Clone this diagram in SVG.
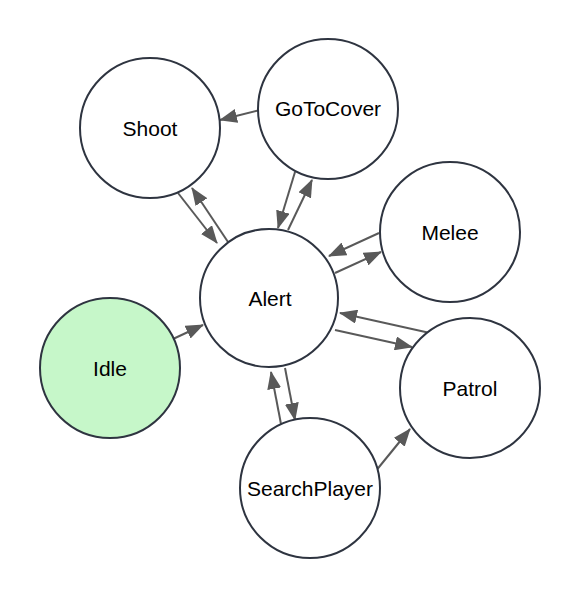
<svg xmlns="http://www.w3.org/2000/svg" width="580" height="600" viewBox="0 0 580 600">
<style>
.n{fill:#ffffff;stroke:#2e3440;stroke-width:2}
.idle{fill:#c6f7c9}
.t{font-family:"Liberation Sans",Arial,sans-serif;font-size:21px;fill:#000;text-anchor:middle;dominant-baseline:central}
.e{stroke:#595959;stroke-width:2;fill:none;marker-end:url(#a)}
</style>
<defs>
<marker id="a" markerUnits="userSpaceOnUse" markerWidth="18" markerHeight="14" viewBox="0 0 18 14" refX="17" refY="7" orient="auto">
<path d="M0,0 L18,7 L0,14 Z" fill="#595959"/>
</marker>
</defs>
<rect width="580" height="600" fill="#ffffff"/>
<g id="connectors">
<line class="e" x1="260" y1="110" x2="220" y2="120"/>
<line class="e" x1="178" y1="193" x2="217" y2="243"/>
<line class="e" x1="228" y1="242" x2="192" y2="188"/>
<line class="e" x1="288" y1="230" x2="312" y2="180"/>
<line class="e" x1="295" y1="172" x2="278" y2="228"/>
<line class="e" x1="379" y1="233" x2="329" y2="256"/>
<line class="e" x1="335" y1="273" x2="381" y2="252"/>
<line class="e" x1="430" y1="333" x2="340" y2="313"/>
<line class="e" x1="335" y1="330" x2="412" y2="347"/>
<line class="e" x1="173" y1="339" x2="203" y2="325"/>
<line class="e" x1="281" y1="424" x2="271" y2="372"/>
<line class="e" x1="285" y1="368" x2="295" y2="420"/>
<line class="e" x1="375" y1="472" x2="410" y2="429"/>
</g>
<g id="Shoot"><circle class="n" cx="150" cy="128" r="70"/><text class="t" x="150" y="128">Shoot</text></g>
<g id="GoToCover"><circle class="n" cx="328" cy="109" r="70"/><text class="t" x="328" y="108">GoToCover</text></g>
<g id="Melee"><circle class="n" cx="450" cy="232" r="70"/><text class="t" x="450" y="232">Melee</text></g>
<g id="Alert"><circle class="n" cx="269" cy="298" r="69"/><text class="t" x="270" y="298">Alert</text></g>
<g id="Idle"><circle class="n idle" cx="110" cy="368" r="70"/><text class="t" x="110" y="368">Idle</text></g>
<g id="Patrol"><circle class="n" cx="470" cy="388" r="70"/><text class="t" x="470" y="388">Patrol</text></g>
<g id="SearchPlayer"><circle class="n" cx="310" cy="488" r="70"/><text class="t" x="310" y="488">SearchPlayer</text></g>
</svg>
